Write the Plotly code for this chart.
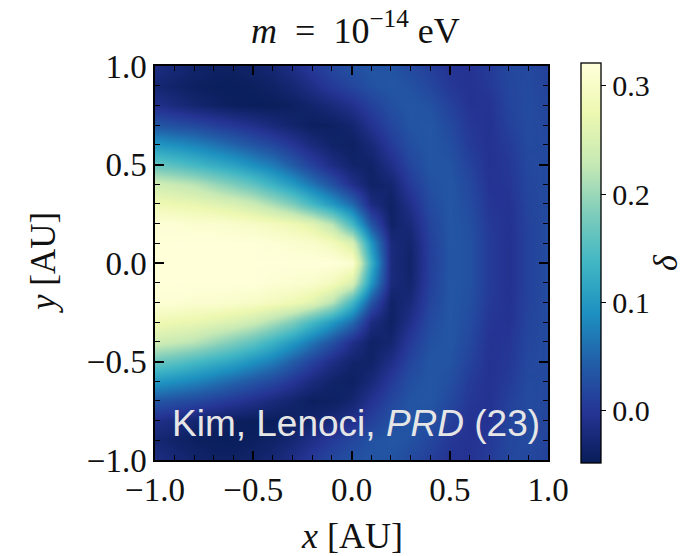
import plotly.graph_objects as go

# Grid coordinates (AU)
x_au = [-1.0, -0.9, -0.8, -0.7, -0.6, -0.5, -0.4, -0.3, -0.2, -0.1, 0.0,
        0.1, 0.2, 0.3, 0.4, 0.5, 0.6, 0.7, 0.8, 0.9, 1.0]
y_upper = [0.0, 0.1, 0.2, 0.3, 0.4, 0.5, 0.6, 0.7, 0.8, 0.9, 1.0]

# Density contrast delta on the grid, one list per row y >= 0 (field is symmetric in y)
delta_y00 = [0.32, 0.32, 0.32, 0.32, 0.32, 0.32, 0.32, 0.32, 0.32, 0.32, 0.31,
             0.13, -0.02, -0.035, 0.01, 0.034, 0.03, 0.006, -0.006, 0.013, 0.024]
delta_y01 = [0.32, 0.32, 0.32, 0.32, 0.32, 0.32, 0.315, 0.31, 0.305, 0.29, 0.25,
             0.098, -0.021, -0.032, 0.012, 0.034, 0.03, 0.006, -0.006, 0.013, 0.024]
delta_y02 = [0.315, 0.315, 0.31, 0.31, 0.305, 0.30, 0.29, 0.28, 0.26, 0.22, 0.14,
             0.035, -0.036, -0.022, 0.016, 0.035, 0.028, 0.004, -0.005, 0.014, 0.024]
delta_y03 = [0.28, 0.275, 0.27, 0.26, 0.25, 0.235, 0.21, 0.18, 0.14, 0.10, 0.055,
             -0.017, -0.038, -0.01, 0.023, 0.035, 0.024, 0.0, -0.004, 0.016, 0.023]
delta_y04 = [0.24, 0.23, 0.22, 0.20, 0.18, 0.16, 0.13, 0.10, 0.065, 0.03, -0.01,
             -0.037, -0.03, 0.005, 0.029, 0.035, 0.02, -0.003, 0.0, 0.018, 0.023]
delta_y05 = [0.165, 0.155, 0.14, 0.125, 0.11, 0.09, 0.07, 0.04, 0.012, -0.015, -0.033,
             -0.036, -0.012, 0.017, 0.034, 0.032, 0.014, -0.005, 0.002, 0.02, 0.022]
delta_y06 = [0.10, 0.09, 0.08, 0.065, 0.05, 0.035, 0.02, 0.0, -0.02, -0.035, -0.04,
             -0.024, 0.005, 0.027, 0.035, 0.027, 0.006, -0.005, 0.006, 0.022, 0.021]
delta_y07 = [0.035, 0.027, 0.02, 0.01, 0.0, -0.01, -0.022, -0.033, -0.042, -0.04, -0.03,
             -0.005, 0.018, 0.033, 0.035, 0.021, 0.002, -0.005, 0.012, 0.023, 0.019]
delta_y08 = [-0.01, -0.02, -0.03, -0.037, -0.043, -0.045, -0.045, -0.04, -0.032, -0.022, -0.008,
             0.012, 0.028, 0.035, 0.03, 0.012, -0.003, -0.003, 0.016, 0.024, 0.017]
delta_y09 = [-0.028, -0.035, -0.041, -0.044, -0.045, -0.042, -0.036, -0.027, -0.012, 0.005, 0.018,
             0.03, 0.035, 0.03, 0.018, 0.002, -0.005, 0.003, 0.018, 0.022, 0.015]
delta_y10 = [-0.015, -0.025, -0.033, -0.038, -0.038, -0.034, -0.027, -0.012, 0.005, 0.02, 0.03,
             0.034, 0.032, 0.022, 0.01, -0.003, -0.003, 0.006, 0.02, 0.02, 0.012]

upper_rows = [delta_y00, delta_y01, delta_y02, delta_y03, delta_y04, delta_y05,
              delta_y06, delta_y07, delta_y08, delta_y09, delta_y10]

# Colour bar ticks
cbar_ticks = [0.0, 0.1, 0.2, 0.3]
cbar_labels = ["0.0", "0.1", "0.2", "0.3"]
delta_min, delta_max = -0.048, 0.321

# Mirror the upper half to get the full y range
y_au = [-v for v in y_upper[:0:-1]] + y_upper
z = [upper_rows[i] for i in range(10, 0, -1)] + upper_rows

ylgnbu_r = [
    [0.0, "#081d58"], [0.125, "#253494"], [0.25, "#225ea8"], [0.375, "#1d91c0"],
    [0.5, "#41b6c4"], [0.625, "#7fcdbb"], [0.75, "#c7e9b4"], [0.875, "#edf8b1"],
    [1.0, "#ffffd9"],
]

SERIF = "Liberation Serif, DejaVu Serif, serif"
INK = "#111111"

fig = go.Figure(go.Heatmap(
    x=x_au, y=y_au, z=z,
    zsmooth="best",
    colorscale=ylgnbu_r,
    zmin=delta_min, zmax=delta_max,
    colorbar=dict(
        x=1.084, xanchor="left", xref="paper", xpad=0,
        y=0.5, yanchor="middle", len=1.015, lenmode="fraction", ypad=0,
        thickness=20, outlinecolor="black", outlinewidth=1.3,
        tickmode="array", tickvals=cbar_ticks, ticktext=cbar_labels,
        ticks="outside", ticklen=5, tickwidth=1.2, tickcolor="black",
        tickfont=dict(family=SERIF, size=30, color=INK),
    ),
    hoverinfo="skip",
))

axis_common = dict(
    range=[-1.0, 1.0], tick0=-1.0, dtick=0.5, tickformat=".1f",
    ticks="inside", ticklen=9, tickwidth=1.5, tickcolor="black",
    minor=dict(ticks="inside", dtick=0.1, ticklen=5, tickwidth=1.2, tickcolor="black"),
    showline=True, linecolor="black", linewidth=1.5, mirror="allticks",
    showgrid=False, zeroline=False, layer="above traces", automargin=False,
    tickfont=dict(family=SERIF, size=33, color=INK),
)

fig.update_layout(
    width=694, height=556,
    margin=dict(l=155, r=146, t=66, b=96, autoexpand=False),
    paper_bgcolor="white", plot_bgcolor="white",
    title=dict(text="<i>m</i>\u2002=\u200210<sup>−14</sup> eV", x=0.51, xref="paper",
               xanchor="center", y=1 - 30 / 556, yref="container", yanchor="middle",
               font=dict(family=SERIF, size=36, color=INK)),
    xaxis=axis_common,
    yaxis=axis_common,
    annotations=[
        # axis titles
        dict(text="<i>x</i> [AU]", x=0.5, y=(460 - 536) / 394, xref="paper", yref="paper",
             xanchor="center", yanchor="middle", showarrow=False,
             font=dict(family=SERIF, size=36, color=INK)),
        dict(text="<i>y</i> [AU]", x=(43 - 155) / 393, y=0.5, xref="paper", yref="paper",
             xanchor="center", yanchor="middle", textangle=-90, showarrow=False,
             font=dict(family=SERIF, size=35, color=INK)),
        # citation inside the panel
        dict(text="Kim, Lenoci, <i>PRD</i> (23)", x=-0.925, y=-0.815, xref="x", yref="y",
             xanchor="left", yanchor="middle", showarrow=False,
             font=dict(family="Liberation Sans, Arial, sans-serif", size=37, color="#e6e6e6")),
        # colour bar label
        dict(text="<i>δ</i>", x=(665 - 155) / 393, y=0.5, xref="paper", yref="paper",
             xanchor="center", yanchor="middle", textangle=-90, showarrow=False,
             font=dict(family=SERIF, size=34, color=INK)),
    ],
)

fig.write_html("out.html")
